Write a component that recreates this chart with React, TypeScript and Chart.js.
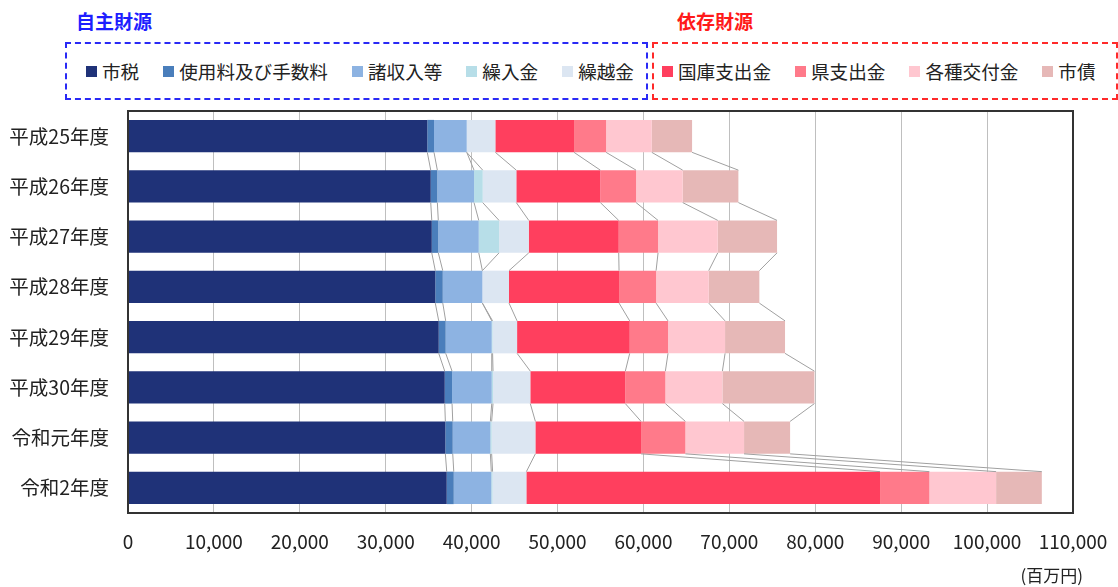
import React, { useEffect, useRef } from "react";
import { Chart, registerables } from "chart.js";

Chart.register(...registerables);

const categories = ["平成25年度", "平成26年度", "平成27年度", "平成28年度", "平成29年度", "平成30年度", "令和元年度", "令和2年度"];

const shizei = [34840, 35240, 35360, 35770, 36170, 36870, 36940, 37100];
const shiyoryo = [780, 770, 760, 870, 810, 850, 860, 820];
const shoshunyu = [3810, 4270, 4710, 4610, 5360, 4620, 4380, 4370];
const kurirekin = [0, 1010, 2360, 0, 100, 150, 150, 150];
const kurikoshi = [3330, 3910, 3460, 3100, 2850, 4340, 5090, 3930];
const kokko = [9160, 9780, 10470, 12810, 13110, 11060, 12300, 41170];
const ken = [3730, 4160, 4580, 4310, 4460, 4660, 5160, 5740];
const kofukin = [5320, 5430, 6950, 6130, 6640, 6640, 6830, 7770];
const shisai = [4690, 6480, 6900, 5890, 6980, 10710, 5360, 5320];

const xTicks = [0, 10000, 20000, 30000, 40000, 50000, 60000, 70000, 80000, 90000, 100000, 110000];

const selfNames = ["市税", "使用料及び手数料", "諸収入等", "繰入金", "繰越金"];
const selfValues = [shizei, shiyoryo, shoshunyu, kurirekin, kurikoshi];
const selfColors = ["#1F3278", "#4A7EBB", "#8DB3E2", "#B7DEE8", "#DCE6F2"];

const depNames = ["国庫支出金", "県支出金", "各種交付金", "市債"];
const depValues = [kokko, ken, kofukin, shisai];
const depColors = ["#FF3F5E", "#FF7A8A", "#FFC7D0", "#E6B8B7"];

const groupSelf = "自主財源";
const groupDep = "依存財源";
const unitLabel = "(百万円)";

const FONT = "'Noto Sans CJK JP', 'Noto Sans', sans-serif";

const seriesLinesPlugin = {
  id: "seriesLines",
  afterDatasetsDraw(chart: any) {
    const ctx = chart.ctx;
    ctx.save();
    ctx.strokeStyle = "#A0A0A0";
    ctx.lineWidth = 1;
    chart.data.datasets.forEach((_: any, i: number) => {
      const meta = chart.getDatasetMeta(i);
      const els = meta.data;
      for (let k = 0; k < els.length - 1; k++) {
        const a = els[k].getProps(["x", "y", "height"], true);
        const b = els[k + 1].getProps(["x", "y", "height"], true);
        ctx.beginPath();
        ctx.moveTo(a.x, a.y + a.height / 2);
        ctx.lineTo(b.x, b.y - b.height / 2);
        ctx.stroke();
      }
    });
    ctx.restore();
  },
};

const framePlugin = {
  id: "frame",
  afterDraw(chart: any) {
    const { ctx, chartArea } = chart;
    ctx.save();
    ctx.strokeStyle = "#333333";
    ctx.lineWidth = 2;
    ctx.strokeRect(chartArea.left, chartArea.top, chartArea.right - chartArea.left, chartArea.bottom - chartArea.top);
    ctx.fillStyle = "#222";
    ctx.font = `17px ${FONT}`;
    ctx.textAlign = "right";
    ctx.textBaseline = "middle";
    ctx.fillText(unitLabel, chartArea.right + 10, 576);
    ctx.restore();
  },
};

function LegendBox(props: { names: string[]; colors: string[]; border: string; style: any; padLeft: number }) {
  return (
    <div
      style={{
        position: "absolute",
        boxSizing: "border-box",
        border: `2px dashed ${props.border}`,
        display: "flex",
        alignItems: "center",
        paddingLeft: props.padLeft,
        ...props.style,
      }}
    >
      {props.names.map((n, i) => (
        <div key={n} style={{ display: "flex", alignItems: "center", marginRight: 24 }}>
          <span style={{ display: "inline-block", width: 11, height: 11, background: props.colors[i], marginRight: 5 }} />
          <span style={{ fontSize: 18.6, color: "#222", fontFamily: FONT, whiteSpace: "nowrap", lineHeight: "22px" }}>{n}</span>
        </div>
      ))}
    </div>
  );
}

export default function App() {
  const ref = useRef<HTMLCanvasElement | null>(null);

  useEffect(() => {
    document.body.style.margin = "0";
    const datasets = [
      ...selfNames.map((n, i) => ({ label: n, data: selfValues[i], backgroundColor: selfColors[i] })),
      ...depNames.map((n, i) => ({ label: n, data: depValues[i], backgroundColor: depColors[i] })),
    ].map((d) => ({ ...d, borderWidth: 0, categoryPercentage: 1, barPercentage: 0.646 }));

    const chart = new Chart(ref.current as HTMLCanvasElement, {
      type: "bar",
      data: { labels: categories, datasets },
      options: {
        indexAxis: "y",
        animation: false,
        responsive: false,
        layout: { padding: { top: 111, right: 45, left: 0, bottom: 0 } },
        plugins: { legend: { display: false }, tooltip: { enabled: false } },
        scales: {
          x: {
            stacked: true,
            min: 0,
            max: 110000,
            afterBuildTicks: (s: any) => {
              s.ticks = xTicks.map((v) => ({ value: v }));
            },
            afterFit: (s: any) => {
              s.height = 74;
              s.paddingLeft = 0;
              s.paddingRight = 0;
            },
            grid: { color: "#BFBFBF", lineWidth: 1, drawTicks: false },
            border: { display: false },
            ticks: {
              padding: 17,
              color: "#222",
              font: { size: 19, family: FONT },
              callback: (v: any) => Number(v).toLocaleString("en-US"),
              maxRotation: 0,
              autoSkip: false,
            },
          },
          y: {
            stacked: true,
            afterFit: (s: any) => {
              s.width = 128;
              s.paddingTop = 0;
              s.paddingBottom = 0;
            },
            grid: { display: false, drawTicks: false },
            border: { display: false },
            ticks: { padding: 19, color: "#222", font: { size: 19.5, family: FONT } },
          },
        },
      },
      plugins: [seriesLinesPlugin, framePlugin],
    } as any);
    return () => chart.destroy();
  }, []);

  return (
    <div style={{ position: "fixed", left: 0, top: 0, width: 1118, height: 587, background: "#fff", overflow: "hidden" }}>
      <div style={{ position: "absolute", left: 76, top: 8, fontSize: 19, fontWeight: "bold", color: "#1E1EFF", fontFamily: FONT, lineHeight: "26px" }}>{groupSelf}</div>
      <div style={{ position: "absolute", left: 677, top: 8, fontSize: 19, fontWeight: "bold", color: "#FF1A1A", fontFamily: FONT, lineHeight: "26px" }}>{groupDep}</div>
      <LegendBox names={selfNames} colors={selfColors} border="#2A2AF5" padLeft={19} style={{ left: 65, top: 42, width: 583, height: 58 }} />
      <LegendBox names={depNames} colors={depColors} border="#FF2A2A" padLeft={8} style={{ left: 652, top: 42, width: 466, height: 58 }} />
      <canvas ref={ref} width={1118} height={587} style={{ position: "absolute", left: 0, top: 0, width: 1118, height: 587 }} />
    </div>
  );
}
